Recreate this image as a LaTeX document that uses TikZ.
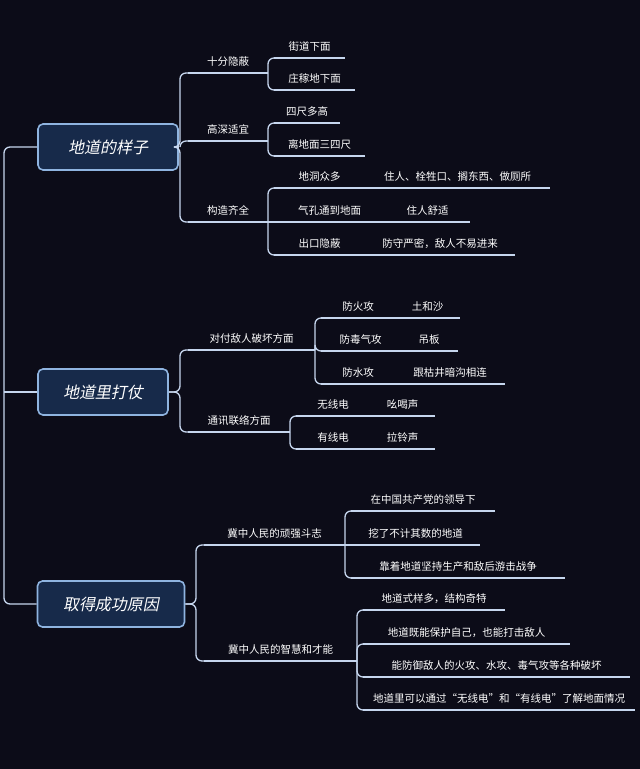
\documentclass[tikz,border=0pt]{standalone}
\usepackage{fontspec}
\setmainfont{Noto Sans CJK SC}
\newfontfamily\boxfont[FakeSlant=0.2]{Noto Sans CJK SC}
\begin{document}
\begin{tikzpicture}[x=1pt,y=-1pt,
  conn/.style={draw=linec,line width=1.3pt,rounded corners=6pt},
  leaftext/.style={text=white,font=\fontsize{10.5}{12}\selectfont,inner sep=0pt},
  mainbox/.style={draw=boxb,fill=boxf,line width=1.6pt,rounded corners=5pt,text=white,font=\fontsize{16}{18}\boxfont,minimum height=46pt,inner sep=0pt}]
\definecolor{bg}{HTML}{0C0C18}
\definecolor{linec}{HTML}{C6D6EE}
\definecolor{boxb}{HTML}{8FB4E0}
\definecolor{boxf}{HTML}{172A4A}
\fill[bg] (0,0) rectangle (640,769);
\useasboundingbox (0,0) rectangle (640,769);
\newcommand{\leaf}[5]{%
  \coordinate (#1-s) at (#2,#4); \coordinate (#1-e) at (#3,#4);
  \draw[conn] (#1-s) -- (#1-e);
  \node[leaftext,anchor=base] (#1) at ({(#2+#3)/2},#4-8) {#5};}
\node[mainbox,minimum width=140pt] (b1) at (108,147) {地道的样子};
\node[mainbox,minimum width=130pt] (b2) at (103,392) {地道里打仗};
\node[mainbox,minimum width=147pt] (b3) at (111,604) {取得成功原因};
\coordinate (t) at (4,392);
\draw[conn] (b1.west) -| (t) |- (b3.west);
\draw[conn] (t) -- (b2.west);
% branch 1
\coordinate (v1) at (180,147);
\leaf{a1}{188}{268}{73}{十分隐蔽}
\leaf{a2}{188}{268}{141}{高深适宜}
\leaf{a3}{188}{268}{222}{构造齐全}
\draw[conn] (b1.east) -- (v1) |- (a1-s);
\draw[conn] (b1.east) -- (v1) |- (a3-s);
\draw[conn] (v1) |- (a2-s);
\leaf{a11}{274}{345}{58}{街道下面}
\leaf{a12}{274}{355}{90}{庄稼地下面}
\leaf{a21}{274}{340}{123}{四尺多高}
\leaf{a22}{274}{365}{156}{离地面三四尺}
\leaf{a31}{274}{365}{188}{地洞众多}
\leaf{a32}{274}{385}{222}{气孔通到地面}
\leaf{a33}{274}{365}{255}{出口隐蔽}
\leaf{a31x}{365}{550}{188}{住人、栓牲口、搁东西、做厕所}
\leaf{a32x}{385}{470}{222}{住人舒适}
\leaf{a33x}{365}{515}{255}{防守严密，敌人不易进来}
\draw[conn] (a1-e) |- (a11-s); \draw[conn] (a1-e) |- (a12-s);
\draw[conn] (a2-e) |- (a21-s); \draw[conn] (a2-e) |- (a22-s);
\draw[conn] (a3-e) |- (a31-s); \draw[conn] (a3-e) |- (a33-s);
\draw[conn] (a3-e) -- (a32-s);
% branch 2
\coordinate (v2) at (180,392);
\leaf{c1}{188}{315}{350}{对付敌人破坏方面}
\leaf{c2}{188}{290}{432}{通讯联络方面}
\draw[conn] (b2.east) -- (v2) |- (c1-s);
\draw[conn] (b2.east) -- (v2) |- (c2-s);
\leaf{c11}{321}{395}{318}{防火攻}
\leaf{c12}{321}{400}{351}{防毒气攻}
\leaf{c13}{321}{395}{384}{防水攻}
\leaf{c11x}{395}{460}{318}{土和沙}
\leaf{c12x}{400}{458}{351}{吊板}
\leaf{c13x}{395}{505}{384}{跟枯井暗沟相连}
\draw[conn] (c1-e) |- (c11-s); \draw[conn] (c1-e) |- (c13-s);
\draw[conn] (c1-e) |- (c12-s);
\leaf{c21}{296}{370}{416}{无线电}
\leaf{c22}{296}{370}{449}{有线电}
\leaf{c21x}{370}{435}{416}{吆喝声}
\leaf{c22x}{370}{435}{449}{拉铃声}
\draw[conn] (c2-e) |- (c21-s); \draw[conn] (c2-e) |- (c22-s);
% branch 3
\coordinate (v3) at (196,604);
\leaf{d1}{204}{345}{545}{冀中人民的顽强斗志}
\leaf{d2}{204}{357}{661}{冀中人民的智慧和才能}
\draw[conn] (b3.east) -- (v3) |- (d1-s);
\draw[conn] (b3.east) -- (v3) |- (d2-s);
\leaf{d11}{351}{495}{511}{在中国共产党的领导下}
\leaf{d12}{351}{480}{545}{挖了不计其数的地道}
\leaf{d13}{351}{565}{578}{靠着地道坚持生产和敌后游击战争}
\draw[conn] (d1-e) |- (d11-s); \draw[conn] (d1-e) |- (d13-s);
\draw[conn] (d1-e) -- (d12-s);
\leaf{d21}{363}{505}{610}{地道式样多，结构奇特}
\leaf{d22}{363}{570}{644}{地道既能保护自己，也能打击敌人}
\leaf{d23}{363}{630}{677}{能防御敌人的火攻、水攻、毒气攻等各种破坏}
\leaf{d24}{363}{635}{710}{地道里可以通过“无线电”和“有线电”了解地面情况}
\draw[conn] (d2-e) |- (d21-s); \draw[conn] (d2-e) |- (d24-s);
\draw[conn] (d2-e) |- (d22-s); \draw[conn] (d2-e) |- (d23-s);
\end{tikzpicture}
\end{document}
